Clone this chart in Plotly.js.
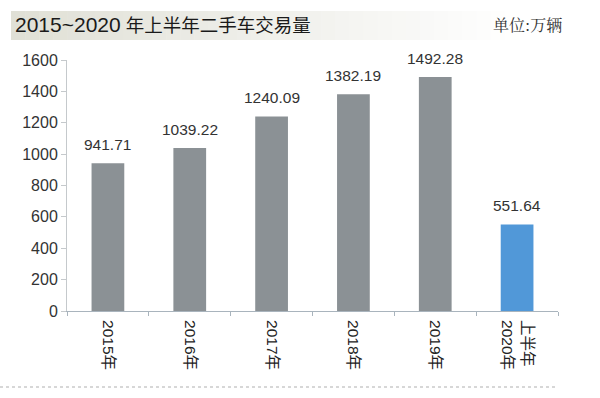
<!DOCTYPE html>
<html><head><meta charset="utf-8">
<script src="https://cdn.plot.ly/plotly-3.0.1.min.js"></script>
<style>html,body{margin:0;padding:0;background:#fff;}#chart{width:600px;height:398px;}</style>
</head><body><div id="chart"></div>
<script>
const categories = ["2015年", "2016年", "2017年", "2018年", "2019年", "上半年<br>2020年"];
const values = [941.71, 1039.22, 1240.09, 1382.19, 1492.28, 551.64];
const valueLabels = ["941.71", "1039.22", "1240.09", "1382.19", "1492.28", "551.64"];
const barColors = ["#8b9195", "#8b9195", "#8b9195", "#8b9195", "#8b9195", "#5198d8"];
const yTicks = [0, 200, 400, 600, 800, 1000, 1200, 1400, 1600];

// pixel -> paper helpers (plot area: x 67..558, y 60..311)
const py = p => (311 - p) / 251;
const px = p => (p - 67) / 491;

const annotations = [
  {xref: "paper", yref: "paper", x: px(13), y: py(25), xanchor: "left", yanchor: "middle",
   text: '<span style="font-size:21px">2015~2020</span> 年上半年二手车交易量', showarrow: false,
   font: {size: 18.5, color: "#1a1a1a", family: "Liberation Sans, Noto Sans CJK SC, sans-serif"}},
  {xref: "paper", yref: "paper", x: px(564), y: py(25), xanchor: "right", yanchor: "middle",
   text: "单位:万辆", showarrow: false,
   font: {size: 16, color: "#333", family: "Noto Serif CJK SC, Noto Sans CJK SC, serif"}}
];
categories.forEach((c, i) => {
  annotations.push({x: c, y: values[i], xref: "x", yref: "y", text: valueLabels[i],
    showarrow: false, yanchor: "bottom", yshift: 8,
    font: {size: 15.5, color: "#333", family: "Liberation Sans, Arial, sans-serif"}});
});

const layout = {
  width: 600, height: 398,
  margin: {l: 67, r: 42, t: 60, b: 87},
  paper_bgcolor: "#fff", plot_bgcolor: "rgba(0,0,0,0)",
  showlegend: false,
  bargap: 0.6,
  font: {family: "Liberation Sans, Arial, sans-serif", color: "#333", size: 15},
  xaxis: {
    type: "category", tickangle: 90, showgrid: false,
    showline: true, linecolor: "#a9b4bd", linewidth: 1,
    ticks: "outside", ticklen: 4, tickcolor: "#a9b4bd", tickson: "boundaries",
    ticklabelstandoff: 5,
    tickfont: {size: 15.5, color: "#222", family: "Liberation Sans, Noto Sans CJK SC, sans-serif"},
    fixedrange: true
  },
  yaxis: {
    range: [0, 1600], tickvals: yTicks, showgrid: false, zeroline: false,
    showline: true, linecolor: "#c5c9cc", linewidth: 1,
    ticks: "outside", ticklen: 5, tickcolor: "#c5c9cc",
    tickfont: {size: 16, color: "#333"}, fixedrange: true
  },
  annotations: annotations,
  shapes: []
};
const steps = 40;
for (let i = 0; i < steps; i++) {
  const t = i / (steps - 1);
  const f = Math.min(1, t * 1.1);
  const c = [224 + 31 * f, 224 + 31 * f, 214 + 41 * f].map(Math.round);
  const a = 11 + (i / steps) * (575 - 11), b = 11 + ((i + 1) / steps) * (575 - 11) + 0.5;
  layout.shapes.push({type: "rect", xref: "paper", yref: "paper", layer: "below",
    x0: px(a), x1: px(b), y0: py(40), y1: py(11), line: {width: 0},
    fillcolor: `rgb(${c[0]},${c[1]},${c[2]})`});
}
layout.shapes.push({type: "line", xref: "paper", yref: "paper",
  x0: px(0), x1: px(555), y0: py(387), y1: py(387),
  line: {color: "#b0b0b0", width: 1.2, dash: "dot"}});

const trace = {
  type: "bar", x: categories, y: values,
  marker: {color: barColors, line: {width: 0}},
  cliponaxis: false,
  hoverinfo: "skip"
};
Plotly.newPlot("chart", [trace], layout, {staticPlot: true});
</script></body></html>
